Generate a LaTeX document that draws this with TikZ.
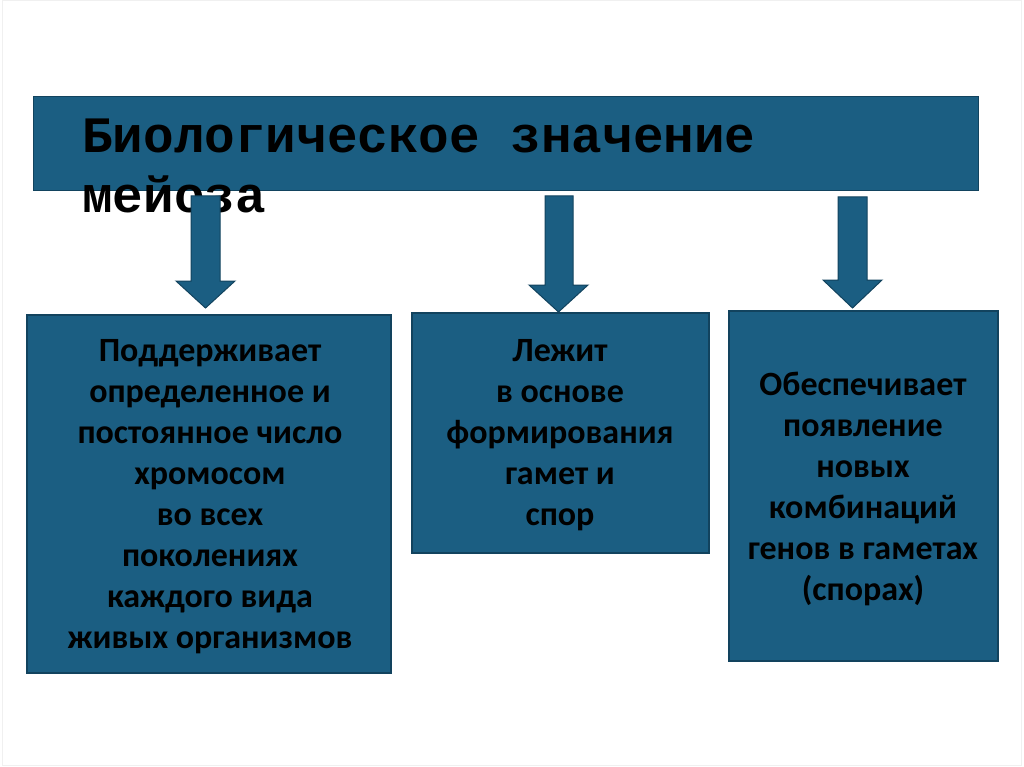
\documentclass[tikz,border=0pt]{standalone}
\usepackage{fontspec}
\setmainfont{Carlito}
\newfontfamily\titlefont{Liberation Mono}
\definecolor{boxblue}{HTML}{1B5E82}
\definecolor{boxedge}{HTML}{12435E}
\begin{document}
\begin{tikzpicture}[x=1pt,y=-1pt]
\tikzset{
  panel/.style={draw=boxedge, fill=boxblue, line width=1.2pt, inner sep=0pt},
  blockarrow/.style={draw=boxedge, fill=boxblue, line width=1pt, line join=miter},
  body/.style={font=\bfseries\fontsize{34}{41}\selectfont, align=center, inner sep=0pt, text=black},
  heading/.style={font=\titlefont\bfseries\fontsize{51}{60}\selectfont, align=left, inner sep=0pt, text=black}
}
\fill[white] (0,0) rectangle (1024,767);
\draw[gray!12, line width=1pt] (2,1) rectangle (1021,765);
\useasboundingbox (0,0) rectangle (1024,767);

% title box
\node[panel, anchor=north west, minimum width=945pt, minimum height=94pt] (title) at (33,96) {};
\node[heading, anchor=base west] (titletext) at (82,213) {Биологическое значение\\мейоза};

% boxes
\node[panel, minimum width=364pt, minimum height=358pt] (b1) at (209,494) {};
\node[panel, minimum width=297pt, minimum height=240pt] (b2) at (560.5,433) {};
\node[panel, minimum width=269pt, minimum height=350pt] (b3) at (863.5,486) {};

% arrows
\draw[blockarrow] (191,196) -- (220,196) -- (220,281) -- (235,281) -- (205.5,308) -- (176,281) -- (191,281) -- cycle;
\draw[blockarrow] (545,196) -- (573,196) -- (573,285) -- (588,285) -- (558.5,312) -- (529,285) -- (545,285) -- cycle;
\draw[blockarrow] (838,197) -- (867,197) -- (867,280) -- (882,280) -- (852.5,308) -- (823,280) -- (838,280) -- cycle;

% texts (anchor base = last line's baseline)
\node[body, anchor=base] (t1) at (210,648) {Поддерживает\\определенное и\\постоянное число\\хромосом\\во всех\\поколениях\\каждого вида\\живых организмов};
\node[body, anchor=base] (t2) at (560,525) {Лежит\\в основе\\формирования\\гамет и\\спор};
\node[body, anchor=base] (t3) at (863,600) {Обеспечивает\\появление\\новых\\комбинаций\\генов в гаметах\\(спорах)};
\end{tikzpicture}
\end{document}
